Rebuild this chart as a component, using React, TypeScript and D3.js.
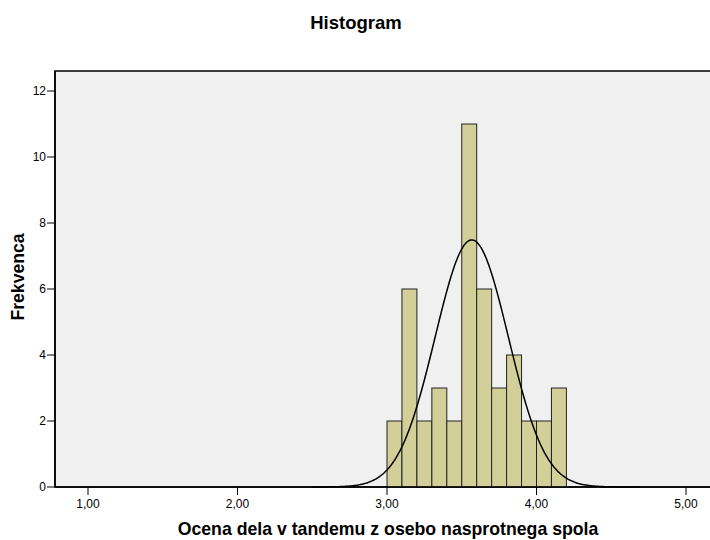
import React, { useEffect, useRef } from "react"
import * as d3 from "d3"

// bin starts (width 0.1) and their counts
const binStarts = [3.0, 3.1, 3.2, 3.3, 3.4, 3.5, 3.6, 3.7, 3.8, 3.9, 4.0, 4.1]
const counts = [2, 6, 2, 3, 2, 11, 6, 3, 4, 2, 2, 3]
const xTicks = [1, 2, 3, 4, 5]
const yTicks = [0, 2, 4, 6, 8, 10, 12]
const mean = 3.567
const stdDev = 0.245
const binWidth = 0.1

export default function App() {
  const ref = useRef<SVGSVGElement>(null)

  useEffect(() => {
    const width = 710,
      height = 540
    const margin = { top: 71, left: 55, bottom: 53 }
    const svg = d3.select(ref.current)
    svg.selectAll("*").remove()

    const x = d3.scaleLinear().domain([1, 5]).range([88, 686])
    const y = d3.scaleLinear().domain([0, 12]).range([height - margin.bottom, 91])
    const plotBottom = height - margin.bottom

    // plot background + frame (right side runs off the window)
    svg.append("rect")
      .attr("x", margin.left)
      .attr("y", margin.top)
      .attr("width", width + 20 - margin.left)
      .attr("height", plotBottom - margin.top)
      .attr("fill", "#f0f0f0")
      .attr("stroke", "#000")
      .attr("stroke-width", 1.5)

    // bars
    svg.selectAll("rect.bar")
      .data(counts)
      .enter()
      .append("rect")
      .attr("class", "bar")
      .attr("x", (d, i) => x(binStarts[i]))
      .attr("width", (d, i) => x(binStarts[i] + binWidth) - x(binStarts[i]))
      .attr("y", d => y(d))
      .attr("height", d => plotBottom - y(d))
      .attr("fill", "#d3cf99")
      .attr("stroke", "#222")
      .attr("stroke-width", 1)

    // normal curve
    const n = d3.sum(counts)
    const pts = d3.range(2.5, 4.7, 0.01).map(v => {
      const z = (v - mean) / stdDev
      return [v, (n * binWidth) / (stdDev * Math.sqrt(2 * Math.PI)) * Math.exp(-0.5 * z * z)]
    })
    const line = d3.line<number[]>()
      .x(d => x(d[0]))
      .y(d => y(d[1]))
      .curve(d3.curveBasis)
    svg.append("path")
      .datum(pts)
      .attr("d", line)
      .attr("fill", "none")
      .attr("stroke", "#000")
      .attr("stroke-width", 1.5)

    // axes lines
    svg.append("line")
      .attr("x1", margin.left).attr("x2", margin.left)
      .attr("y1", margin.top).attr("y2", plotBottom)
      .attr("stroke", "#000").attr("stroke-width", 1.5)
    svg.append("line")
      .attr("x1", margin.left).attr("x2", width)
      .attr("y1", plotBottom).attr("y2", plotBottom)
      .attr("stroke", "#000").attr("stroke-width", 1.5)

    const font = "'Liberation Sans', Arial, sans-serif"

    // y ticks
    const yg = svg.append("g")
    yTicks.forEach(t => {
      yg.append("line")
        .attr("x1", margin.left - 8).attr("x2", margin.left)
        .attr("y1", y(t)).attr("y2", y(t))
        .attr("stroke", "#000").attr("stroke-width", 1)
      yg.append("text")
        .attr("x", margin.left - 9)
        .attr("y", y(t))
        .attr("dy", "0.35em")
        .attr("text-anchor", "end")
        .style("font-family", font)
        .style("font-size", "12px")
        .text(t)
    })

    // x ticks
    const xg = svg.append("g")
    xTicks.forEach(t => {
      xg.append("line")
        .attr("x1", x(t)).attr("x2", x(t))
        .attr("y1", plotBottom).attr("y2", plotBottom + 8)
        .attr("stroke", "#000").attr("stroke-width", 1)
      xg.append("text")
        .attr("x", x(t))
        .attr("y", plotBottom + 21)
        .attr("text-anchor", "middle")
        .style("font-family", font)
        .style("font-size", "12px")
        .text(t.toFixed(2).replace(".", ","))
    })

    svg.append("text")
      .attr("x", 356).attr("y", 29)
      .attr("text-anchor", "middle")
      .style("font-family", font)
      .style("font-size", "18.5px")
      .style("font-weight", "bold")
      .text("Histogram")

    svg.append("text")
      .attr("x", 388).attr("y", 535)
      .attr("text-anchor", "middle")
      .style("font-family", font)
      .style("font-size", "17.7px")
      .style("font-weight", "bold")
      .text("Ocena dela v tandemu z osebo nasprotnega spola")

    svg.append("text")
      .attr("transform", "translate(24,277) rotate(-90)")
      .attr("text-anchor", "middle")
      .style("font-family", font)
      .style("font-size", "17.6px")
      .style("font-weight", "bold")
      .text("Frekvenca")
  }, [])

  return (
    <svg
      ref={ref}
      width={710}
      height={540}
      style={{ position: "absolute", left: 0, top: 0, background: "#fff" }}
    />
  )
}
